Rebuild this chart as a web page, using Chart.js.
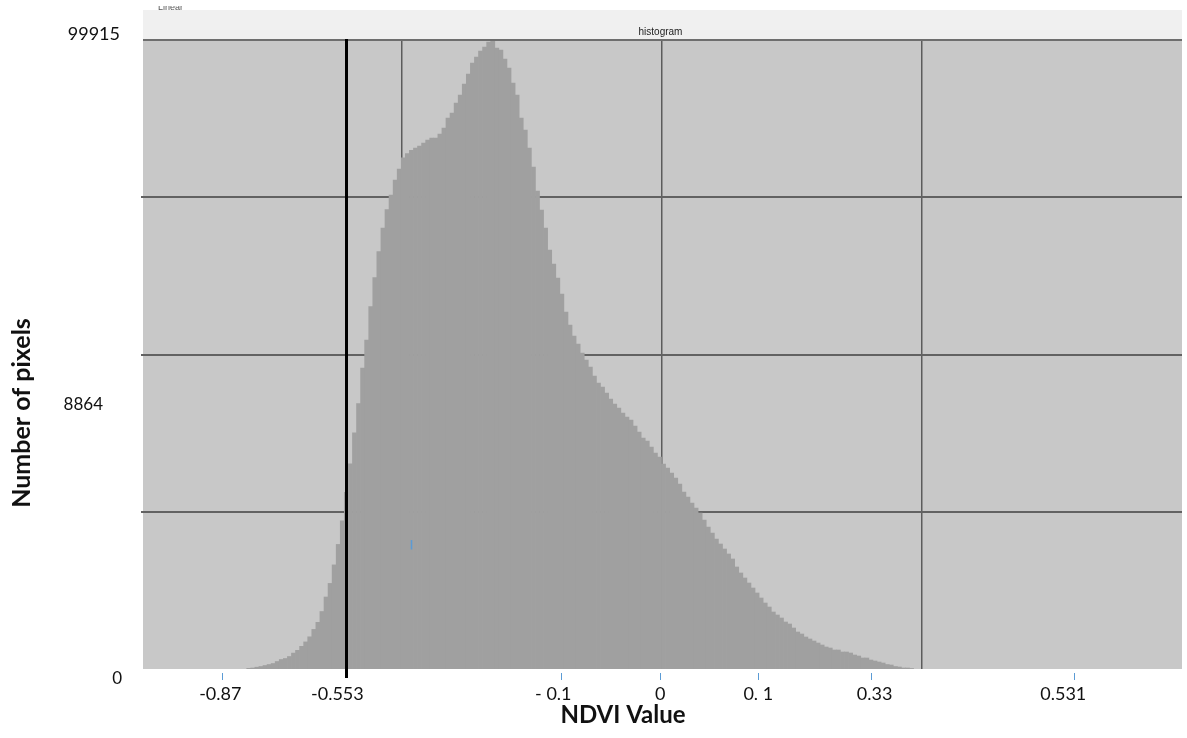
<!DOCTYPE html>
<html>
<head>
<meta charset="utf-8">
<title>NDVI histogram</title>
<script src="https://cdn.jsdelivr.net/npm/chart.js@4.4.1/dist/chart.umd.min.js"></script>
<style>
  html, body { margin: 0; padding: 0; background: #ffffff; }
  #wrap { width: 1187px; height: 738px; position: relative; }
</style>
</head>
<body>
<div id="wrap"><canvas id="histo" width="1187" height="738"></canvas></div>
<script>
// Histogram of NDVI values: 256 bins, pixel counts for the occupied bins.
const binCount = 256;
const firstBin = 26;
const pixelCounts = [
  111, 159, 286, 397, 556, 715, 874, 1191, 1509, 1668,
  1986, 2526, 2970, 3606, 4305, 5115, 6290, 7418, 9134, 11437,
  13598, 16536, 19793, 23526, 28053, 32596, 37520, 42143, 47782, 52230,
  57551, 62158, 66288, 70053, 72992, 75295, 77662, 79425, 81204, 81855,
  82395, 82761, 83079, 83555, 84032, 84349, 84349, 84985, 85938, 87526,
  88321, 89909, 91180, 92927, 94516, 96263, 97216, 98169, 98805, 99597,
  99915, 98644, 98327, 96898, 95468, 93086, 91180, 87526, 85620, 82761,
  79743, 75930, 72912, 70053, 66558, 64334, 62110, 59569, 56709, 54644,
  52897, 51626, 50196, 49084, 47973, 46543, 45431, 44796, 43843, 42890,
  42095, 41460, 40666, 40030, 39554, 38601, 37647, 36694, 36218, 35265,
  34311, 33676, 32564, 31929, 31135, 30340, 29387, 28116, 27322, 26369,
  25575, 24781, 23669, 22557, 21604, 20651, 19856, 19062, 18268, 17474,
  16203, 15250, 14455, 13661, 12867, 12073, 11278, 10484, 9849, 9054,
  8578, 8101, 7466, 7148, 6513, 5877, 5560, 5083, 4766, 4448,
  4130, 3812, 3495, 3336, 3018, 3018, 2700, 2700, 2542, 2224,
  2065, 1747, 1747, 1430, 1271, 1112, 953, 715, 635, 397,
  318, 159, 159, 79
];
const maxCount = 99915;

// Count labels on the left side
const yLabels = ['99915', '8864', '0'];

// NDVI labels under the plot, placed at bin positions
const xTickLabels = ['-0.87', '-0.553', '- 0.1', '0', '0. 1', '0.33', '0.531'];
const xTickLabelBins = [19.5, 48.3, 101.4, 127.7, 151.8, 180.4, 226.8];
const xTickMarkBins = [20.0, 103.3, 127.7, 151.7, 179.6, 229.5];

// Threshold marker at NDVI -0.553
const thresholdBin = 50.4;
const strayMarkBin = 66.3;

const FONT = 'Lato, "Open Sans", "Liberation Sans", sans-serif';

const histoDecor = {
  id: 'histoDecor',
  beforeDraw(chart) {
    const { ctx, chartArea: a } = chart;
    ctx.save();
    // header band above the plot
    ctx.fillStyle = '#f0f0f0';
    ctx.fillRect(a.left + 2, 10, a.right - a.left - 2, a.top - 10);
    // plot background
    ctx.fillStyle = '#c8c8c8';
    ctx.fillRect(a.left + 2, a.top, a.right - a.left - 2, a.bottom - a.top);
    ctx.restore();
  },
  afterDraw(chart) {
    const { ctx, chartArea: a, scales } = chart;
    const xs = scales.x;
    ctx.save();

    // top border of the plot
    ctx.strokeStyle = '#6e6e6e';
    ctx.lineWidth = 2;
    ctx.beginPath();
    ctx.moveTo(a.left + 2, a.top);
    ctx.lineTo(a.right, a.top);
    ctx.stroke();

    // threshold line
    const tx = Math.round(xs.getPixelForValue(thresholdBin)) + 0.5;
    ctx.strokeStyle = '#000000';
    ctx.lineWidth = 3;
    ctx.beginPath();
    ctx.moveTo(tx, a.top - 1);
    ctx.lineTo(tx, a.bottom + 9);
    ctx.stroke();

    // small blue tick marks below the plot
    ctx.strokeStyle = '#5b9bd5';
    ctx.lineWidth = 1;
    xTickMarkBins.forEach(b => {
      const px = Math.round(xs.getPixelForValue(b)) + 0.5;
      ctx.beginPath();
      ctx.moveTo(px, a.bottom + 4);
      ctx.lineTo(px, a.bottom + 11);
      ctx.stroke();
    });
    const sx = Math.round(xs.getPixelForValue(strayMarkBin)) + 0.5;
    ctx.lineWidth = 1.5;
    ctx.beginPath();
    ctx.moveTo(sx, scales.y.getPixelForValue(maxCount * 0.205));
    ctx.lineTo(sx, scales.y.getPixelForValue(maxCount * 0.19));
    ctx.stroke();

    // NDVI tick labels
    ctx.fillStyle = '#111111';
    ctx.font = '18px ' + FONT;
    ctx.textAlign = 'center';
    ctx.textBaseline = 'middle';
    xTickLabels.forEach((t, i) => {
      ctx.fillText(t, xs.getPixelForValue(xTickLabelBins[i]), a.bottom + 25);
    });

    // count labels
    ctx.textAlign = 'right';
    ctx.font = '18px ' + FONT;
    ctx.fillText(yLabels[0], a.left - 21, a.top - 6);
    ctx.font = '17px ' + FONT;
    ctx.fillText(yLabels[1], a.left - 38, a.top + 0.58 * (a.bottom - a.top));
    ctx.fillText(yLabels[2], a.left - 19, a.bottom + 10);

    // axis titles
    ctx.font = 'bold 24px ' + FONT;
    ctx.textAlign = 'center';
    ctx.fillText('NDVI Value', 623, a.bottom + 46);
    ctx.save();
    ctx.translate(22, 413);
    ctx.rotate(-Math.PI / 2);
    ctx.font = 'bold 25px ' + FONT;
    ctx.fillText('Number of pixels', 0, 0);
    ctx.restore();

    // panel caption
    ctx.fillStyle = '#222222';
    ctx.font = '10px "Liberation Sans Narrow", "Liberation Sans", sans-serif';
    ctx.fillText('histogram', (a.left + a.right) / 2 - 1, a.top - 8);

    // scale-mode caption, clipped by the header band
    ctx.save();
    ctx.beginPath();
    ctx.rect(150, 6, 40, 4);
    ctx.clip();
    ctx.fillStyle = '#555555';
    ctx.textAlign = 'left';
    ctx.textBaseline = 'alphabetic';
    ctx.font = '9px "Liberation Sans", sans-serif';
    ctx.fillText('Linear', 158, 10);
    ctx.restore();

    ctx.restore();
  }
};

new Chart(document.getElementById('histo').getContext('2d'), {
  type: 'bar',
  data: {
    datasets: [{
      data: pixelCounts.map((v, i) => ({ x: firstBin + i + 0.5, y: v })),
      backgroundColor: '#a0a0a0',
      borderWidth: 0,
      barPercentage: 1,
      categoryPercentage: 1
    }]
  },
  options: {
    responsive: false,
    animation: false,
    devicePixelRatio: 1,
    layout: { padding: { left: 141, right: 5, top: 40, bottom: 69 } },
    plugins: { legend: { display: false }, tooltip: { enabled: false }, title: { display: false } },
    scales: {
      x: {
        type: 'linear',
        min: 0,
        max: binCount,
        offset: false,
        z: 1,
        afterBuildTicks: s => { s.ticks = [64, 128, 192].map(v => ({ value: v })); },
        grid: { color: '#5c5c5c', lineWidth: 1.5, drawTicks: false, offset: false },
        border: { display: false },
        ticks: { display: false }
      },
      y: {
        min: 0,
        max: maxCount,
        z: 1,
        afterBuildTicks: s => { s.ticks = [1, 2, 3].map(q => ({ value: maxCount * q / 4 })); },
        grid: { color: '#626262', lineWidth: 2, drawTicks: false },
        border: { display: false },
        ticks: { display: false }
      }
    }
  },
  plugins: [histoDecor]
});
</script>
</body>
</html>
